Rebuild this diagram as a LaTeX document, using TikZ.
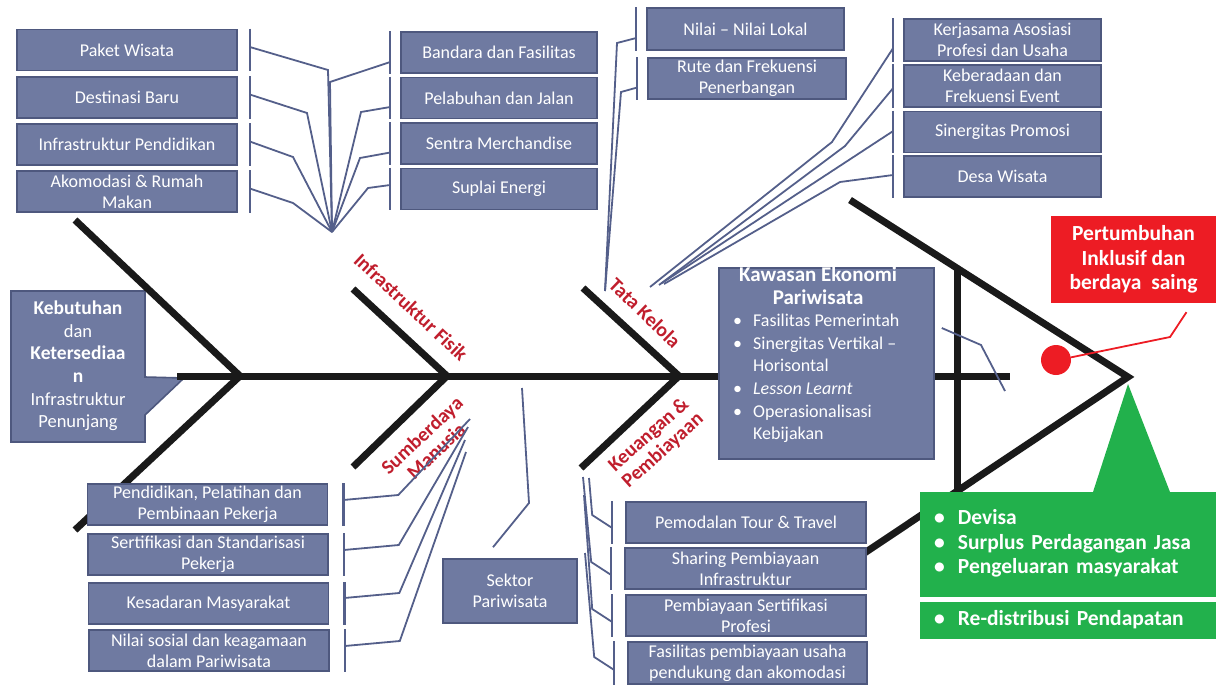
\documentclass[tikz,border=0pt]{standalone}
\usepackage{fontspec}
\setmainfont{Carlito}
\usetikzlibrary{calc}

\definecolor{bxfill}{RGB}{111,122,161}
\definecolor{bxline}{RGB}{78,88,126}
\definecolor{cnline}{RGB}{84,95,138}
\definecolor{bonec}{RGB}{26,26,26}
\definecolor{catred}{RGB}{192,30,45}
\definecolor{hdred}{RGB}{237,28,36}
\definecolor{hdgrn}{RGB}{34,177,76}

\begin{document}
\begin{tikzpicture}[
  x=1pt, y=-1pt,
  bx/.style   = {draw=bxline, fill=bxfill, line width=1.6pt, text=white,
                 align=center, inner sep=0pt, minimum height=41pt,
                 font=\fontsize{18}{21}\selectfont},
  cn/.style   = {draw=cnline, line width=1.8pt},
  bar/.style  = {draw=cnline, line width=2.4pt},
  bone/.style = {draw=bonec, line width=7pt, line join=miter},
  cat/.style  = {text=catred, align=center, inner sep=0pt,
                 font=\bfseries\fontsize{20}{21}\selectfont},
  hd/.style   = {text=white, inner sep=0pt, font=\bfseries\fontsize{21.5}{24.5}\selectfont},
]
\useasboundingbox (0,0) rectangle (1216,686);

%% callout on the tail
\filldraw[fill=bxfill, draw=bxline, line width=1.6pt]
  (11,291) -- (145,291) -- (145,377) -- (184,378) -- (145,415) -- (145,442) -- (11,442) -- cycle;
\node[text=white, align=center, font=\fontsize{18.5}{22.6}\selectfont] (kb) at (78,366)
  {{\bfseries\fontsize{19.5}{22.6}\selectfont Kebutuhan}\\dan\\
   {\bfseries\fontsize{19.5}{22.6}\selectfont Ketersediaa}\\
   {\bfseries\fontsize{19.5}{22.6}\selectfont n}\\Infrastruktur\\Penunjang};

%% the fish
\coordinate (s0) at (177,376);  \coordinate (s1) at (1010,376);
\coordinate (t1) at (75,220);   \coordinate (tj) at (240,376);  \coordinate (t2) at (75,530);
\coordinate (b1) at (353,289);  \coordinate (j1) at (447,376);  \coordinate (b2) at (353,467);
\coordinate (b3) at (583,288);  \coordinate (j2) at (679,376);  \coordinate (b4) at (581,468);
\coordinate (h1) at (850,200);  \coordinate (hj) at (1128,377); \coordinate (h2) at (863,554);
\coordinate (v1) at (957,268);  \coordinate (v2) at (957,491);

\draw[bone] (s0) -- (s1);
\draw[bone] (t1) -- (tj) -- (t2);
\draw[bone] (b1) -- (j1) -- (b2);
\draw[bone] (b3) -- (j2) -- (b4);
\draw[bone] (h1) -- (hj) -- (h2);
\draw[bone] (v1) -- (v2);

\node[cat, rotate=-43] (lif) at (411,307) {Infrastruktur Fisik};
\node[cat, rotate=43]  (lsm) at (429,443) {Sumberdaya\\Manusia};
\node[cat, rotate=-44] (ltk) at (645,313) {Tata Kelola};
\node[cat, rotate=42]  (lkp) at (656,443) {Keuangan \&\\Pembiayaan};

%% infrastruktur fisik
\node[bx, minimum width=220pt] (pw) at (127,50)    {Paket Wisata};
\node[bx, minimum width=220pt] (db) at (127,97.5)  {Destinasi Baru};
\node[bx, minimum width=220pt] (ip) at (127,144.5) {Infrastruktur Pendidikan};
\node[bx, minimum width=220pt] (ak) at (127,191.5) {Akomodasi \& Rumah\\Makan};

\node[bx, minimum width=196pt] (bf) at (499,52.5)  {Bandara dan Fasilitas};
\node[bx, minimum width=196pt] (pj) at (499,98)    {Pelabuhan dan Jalan};
\node[bx, minimum width=196pt] (sm) at (499,143.5) {Sentra Merchandise};
\node[bx, minimum width=196pt] (se) at (499,189)   {Suplai Energi};

\coordinate (hif) at (332,232);
\foreach \b/\px/\py in {pw/328/70, db/307/113, ip/293/157, ak/293/203}{
  \draw[bar] ([xshift=12pt]\b.north east) -- ([xshift=12pt]\b.south east);
  \draw[cn] ([xshift=12pt,yshift=3pt]\b.east) -- (\px,\py) -- (hif);
}
\foreach \b/\dy/\px/\py in {bf/-9.5pt/330/82, pj/-9pt/361/112, sm/-9pt/360/158, se/4pt/368/188}{
  \draw[bar] ([xshift=-10pt]\b.north west) -- ([xshift=-10pt]\b.south west);
  \draw[cn] ([xshift=-10pt,yshift=\dy]\b.west) -- (\px,\py) -- (hif);
}

%% tata kelola
\node[bx, minimum width=197pt, minimum height=42pt] (nl) at (745.5,29) {Nilai -- Nilai Lokal};
\node[bx, minimum width=198pt] (rf) at (747,78.5) {Rute dan Frekuensi\\Penerbangan};

\coordinate (htk) at (605,291);
\foreach \b/\dy/\px/\py in {nl/-9pt/617/43, rf/-9pt/621/92}{
  \draw[bar] ([xshift=-10pt]\b.north west) -- ([xshift=-10pt]\b.south west);
  \draw[cn] ([xshift=-10pt,yshift=\dy]\b.west) -- (\px,\py) -- (htk);
}

\node[bx, minimum width=197pt, minimum height=42pt] (ka) at (1002.5,40) {Kerjasama Asosiasi\\Profesi dan Usaha};
\node[bx, minimum width=197pt, minimum height=42pt] (kf) at (1002.5,86) {Keberadaan dan\\Frekuensi Event};
\node[bx, minimum width=197pt] (sp) at (1002.5,132)   {Sinergitas Promosi};
\node[bx, minimum width=197pt] (dw) at (1002.5,176.5) {Desa Wisata};

\foreach \b/\dy/\px/\py/\ex/\ey in {ka/-8pt/832/142/650/287, kf/-2pt/845/146/659/285,
                                   sp/1pt/800/192/662/283, dw/1.5pt/840/182/664/284}{
  \draw[bar] ([xshift=-10pt]\b.north west) -- ([xshift=-10pt]\b.south west);
  \draw[cn] ([xshift=-10pt,yshift=\dy]\b.west) -- (\px,\py) -- (\ex,\ey);
}

%% sumberdaya manusia
\node[bx, minimum width=240pt] (pp) at (207.5,504.5) {Pendidikan, Pelatihan dan\\Pembinaan Pekerja};
\node[bx, minimum width=240pt] (ss) at (208,554.5)   {Sertifikasi dan Standarisasi\\Pekerja};
\node[bx, minimum width=240pt] (km) at (208.5,603.5) {Kesadaran Masyarakat};
\node[bx, minimum width=240pt] (ns) at (209,650.5)   {Nilai sosial dan keagamaan\\dalam Pariwisata};

\foreach \b/\dy/\ex/\ey in {pp/4.5pt/470/419, ss/4.5pt/468/427, km/5.5pt/465/440, ns/4.5pt/466/452}{
  \draw[bar] ([xshift=15pt]\b.north east) -- ([xshift=15pt]\b.south east);
  \draw[cn] ([xshift=15pt,yshift=\dy]\b.east) -- ++(55,-5) -- (\ex,\ey);
}

%% sektor pariwisata
\node[bx, minimum width=134pt, minimum height=64pt] (sk) at (510,591) {Sektor\\Pariwisata};
\coordinate (sk0) at (522,388);
\draw[cn] (sk0) -- (529,503) -- ([xshift=-17pt,yshift=11pt]sk.north);

%% keuangan & pembiayaan
\node[bx, minimum width=240pt] (pt) at (746,522.5)   {Pemodalan Tour \& Travel};
\node[bx, minimum width=241pt] (sh) at (745.5,568.5) {Sharing Pembiayaan\\Infrastruktur};
\node[bx, minimum width=240pt] (ps) at (746,615.5)   {Pembiayaan Sertifikasi\\Profesi};
\node[bx, minimum width=239pt, minimum height=42pt] (fp) at (747.5,663) {Fasilitas pembiayaan usaha\\pendukung dan akomodasi};

\foreach \b/\dy/\ex/\ey in {pt/-5.5pt/589/478, sh/-6.5pt/583/477, ps/-6.5pt/584/495, fp/-7pt/585/553}{
  \draw[bar] ([xshift=-13pt]\b.north west) -- ([xshift=-13pt]\b.south west);
  \draw[cn] ([xshift=-13pt,yshift=\dy]\b.west) -- ++(-20,-13) -- (\ex,\ey);
}

%% kawasan ekonomi pariwisata
\node[bx, minimum width=215pt, minimum height=191pt] (kw) at (826.5,363.5) {};
\node[text=white, anchor=west, inner sep=0pt, font=\fontsize{18}{22.6}\selectfont] (kwt) at (733,356) {%
  \begin{tabular}{@{}l@{\hspace{11pt}}l@{}}
  \multicolumn{2}{c}{\bfseries\fontsize{21}{22.6}\selectfont Kawasan Ekonomi}\\
  \multicolumn{2}{c}{\bfseries\fontsize{21}{22.6}\selectfont Pariwisata}\\
  \textbullet & Fasilitas Pemerintah\\
  \textbullet & Sinergitas Vertikal --\\
              & Horisontal\\
  \textbullet & \textit{Lesson Learnt}\\
  \textbullet & Operasionalisasi\\
              & Kebijakan
  \end{tabular}};
\draw[cn] ([xshift=7pt,yshift=35.5pt]kw.east) -- (981,345) -- (1005,391);

%% the head: outcomes
\node[fill=hdred, hd, align=center, minimum width=165pt, minimum height=87pt] (rb) at (1133.5,259.5)
  {\rule{0pt}{7pt}Pertumbuhan\\Inklusif dan\\berdaya~~saing};
\node[circle, fill=hdred, minimum size=30pt, inner sep=0pt] (rd) at (1056,360) {};
\draw[hdred, line width=1.8pt] (rd.10) -- (1170,337) -- ([xshift=53pt,yshift=-9pt]rb.south);

\fill[hdgrn] (1128,384) -- (1093,492) -- (1170,492) -- cycle;
\node[fill=hdgrn, hd, anchor=west, minimum width=296pt, minimum height=105pt,
      text width=268pt, inner xsep=14pt] (gb1) at (920,544.5)
  {\begin{tabular}{@{}l@{\hspace{13pt}}l@{}}
   \textbullet & Devisa\\
   \textbullet & Surplus Perdagangan Jasa\\
   \textbullet & Pengeluaran masyarakat
   \end{tabular}};
\node[fill=hdgrn, hd, anchor=west, minimum width=296pt, minimum height=37pt,
      text width=268pt, inner xsep=14pt] (gb2) at (920,620.5)
  {\begin{tabular}{@{}l@{\hspace{13pt}}l@{}}
   \textbullet & Re-distribusi Pendapatan
   \end{tabular}};

\end{tikzpicture}
\end{document}
